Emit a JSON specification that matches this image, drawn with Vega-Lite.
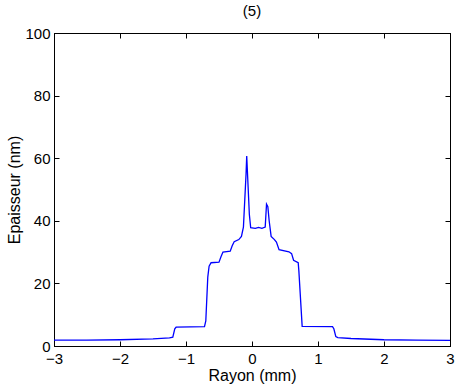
{
  "$schema": "https://vega.github.io/schema/vega-lite/v6.json",
  "width": 396,
  "height": 313,
  "autosize": {"type": "none"},
  "padding": {"left": 54, "top": 33, "right": 6, "bottom": 45},
  "background": "white",
  "title": {"text": "(5)", "fontSize": 15, "fontWeight": "normal", "font": "Liberation Sans", "color": "black", "offset": 7},
  "data": {"values": [
    {"r": -3.0, "e": 1.9}, {"r": -2.5, "e": 1.9}, {"r": -2.0, "e": 2.0}, {"r": -1.5, "e": 2.3},
    {"r": -1.25, "e": 2.6}, {"r": -1.2, "e": 2.8}, {"r": -1.17, "e": 5.5}, {"r": -1.15, "e": 6.0},
    {"r": -0.72, "e": 6.2}, {"r": -0.70, "e": 8}, {"r": -0.67, "e": 22}, {"r": -0.65, "e": 25.5},
    {"r": -0.62, "e": 26.6}, {"r": -0.50, "e": 26.8}, {"r": -0.47, "e": 28.5}, {"r": -0.44, "e": 30.0},
    {"r": -0.33, "e": 30.3}, {"r": -0.30, "e": 32.0}, {"r": -0.27, "e": 33.3}, {"r": -0.20, "e": 34.0},
    {"r": -0.16, "e": 35.0}, {"r": -0.13, "e": 38}, {"r": -0.09, "e": 55}, {"r": -0.08, "e": 60.7},
    {"r": -0.07, "e": 56}, {"r": -0.04, "e": 42}, {"r": -0.02, "e": 37.8}, {"r": 0.05, "e": 37.6},
    {"r": 0.10, "e": 37.9}, {"r": 0.15, "e": 37.6}, {"r": 0.20, "e": 38}, {"r": 0.22, "e": 45.3},
    {"r": 0.24, "e": 44.5}, {"r": 0.26, "e": 40}, {"r": 0.29, "e": 35}, {"r": 0.34, "e": 34.0},
    {"r": 0.37, "e": 33.2}, {"r": 0.41, "e": 30.8}, {"r": 0.56, "e": 30.1}, {"r": 0.60, "e": 29.5},
    {"r": 0.63, "e": 27.4}, {"r": 0.70, "e": 26.6}, {"r": 0.71, "e": 24}, {"r": 0.76, "e": 6.3},
    {"r": 1.22, "e": 6.2}, {"r": 1.24, "e": 5.5}, {"r": 1.27, "e": 3.0}, {"r": 1.30, "e": 2.7},
    {"r": 1.5, "e": 2.4}, {"r": 2.0, "e": 2.0}, {"r": 2.5, "e": 1.9}, {"r": 3.0, "e": 1.8}
  ]},
  "config": {
    "view": {"stroke": "black", "strokeWidth": 1},
    "axis": {
      "grid": false,
      "domainColor": "black",
      "tickColor": "black",
      "labelColor": "black",
      "titleColor": "black",
      "labelFont": "Liberation Sans",
      "titleFont": "Liberation Sans",
      "labelFontSize": 15,
      "titleFontSize": 16,
      "titleFontWeight": "normal",
      "tickSize": -5
    }
  },
  "resolve": {"axis": {"x": "independent", "y": "independent"}},
  "layer": [
    {
      "mark": {"type": "line", "color": "#0000ff", "strokeWidth": 1.3, "interpolate": "linear"},
      "encoding": {
        "x": {"field": "r", "type": "quantitative", "scale": {"domain": [-3, 3], "nice": false},
              "axis": {"orient": "bottom", "title": "Rayon (mm)", "values": [-3, -2, -1, 0, 1, 2, 3], "format": "d", "labelFlush": false, "labelPadding": 10, "titlePadding": 1}},
        "y": {"field": "e", "type": "quantitative", "scale": {"domain": [0, 100], "nice": false},
              "axis": {"orient": "left", "title": "Epaisseur (nm)", "values": [0, 20, 40, 60, 80, 100], "labelFlush": false, "labelPadding": 9, "titlePadding": 2}}
      }
    },
    {
      "mark": {"type": "line", "opacity": 0},
      "encoding": {
        "x": {"field": "r", "type": "quantitative", "axis": {"orient": "top", "labels": false, "title": null, "values": [-3, -2, -1, 0, 1, 2, 3]}},
        "y": {"field": "e", "type": "quantitative", "axis": {"orient": "right", "labels": false, "title": null, "values": [0, 20, 40, 60, 80, 100]}}
      }
    }
  ]
}
